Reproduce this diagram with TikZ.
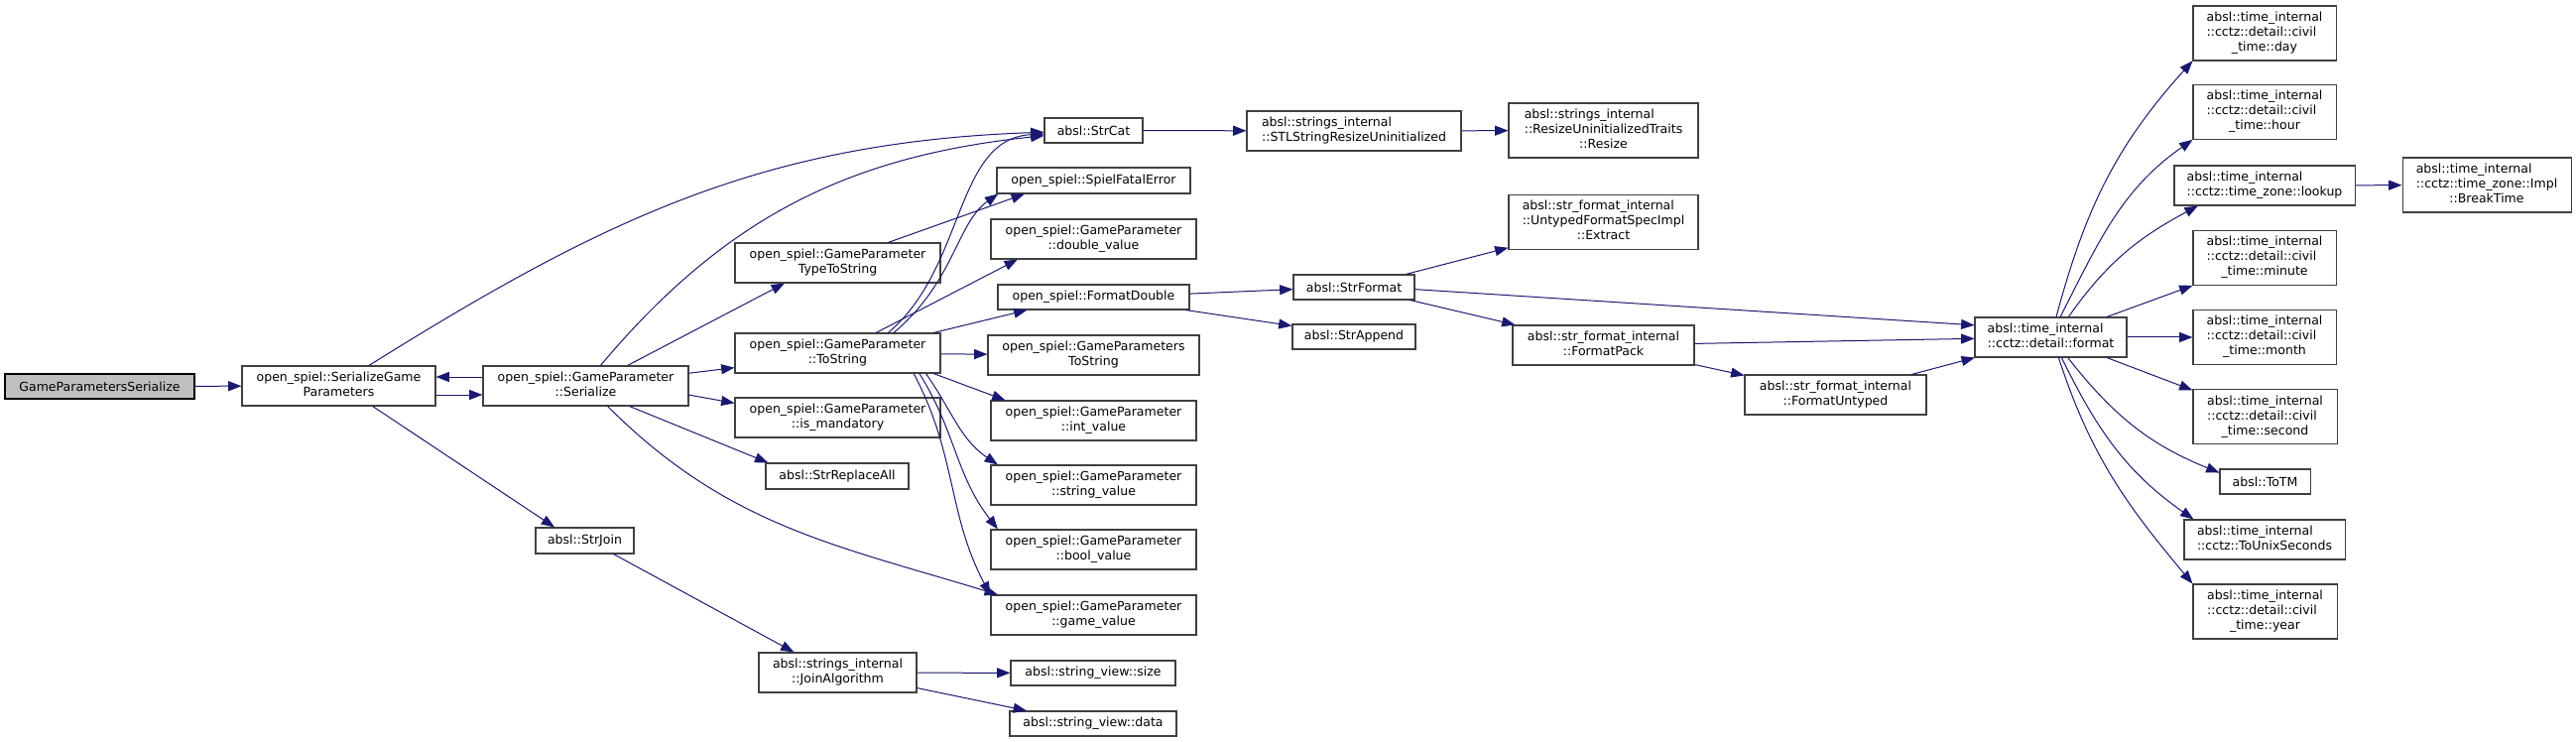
\documentclass[tikz,border=0pt]{standalone}
\usepackage{fontspec}
\setmainfont{DejaVu Sans}
\usetikzlibrary{arrows.meta}
\definecolor{edgeblue}{HTML}{191970}
\definecolor{boxgray}{HTML}{404040}
\definecolor{rootgray}{HTML}{BFBFBF}
\newcommand{\fnl}[2]{\begin{tabular}{@{}l@{}}#1\\\multicolumn{1}{@{}c@{}}{#2}\end{tabular}}

\begin{document}
\begin{tikzpicture}[x=0.75pt, y=-0.75pt,
  fn/.style 2 args={draw=boxgray, fill=white, line width=0.8pt, inner sep=0pt, minimum width=#1*0.75pt, minimum height=#2*0.75pt, font=\fontsize{9.4}{11.25}\selectfont},
  root/.style 2 args={fn={#1}{#2}, draw=black, fill=rootgray},
  call/.style={draw=edgeblue, line width=0.75pt, -{Triangle[length=10pt,width=7.5pt]}}]
\fill[white] (0,0) rectangle (2597,748);
\node[root={191}{25}] (gps) at (100.5,389.5) {GameParametersSerialize};
\node[fn={195}{40}] (sgp) at (341.5,389) {\fnl{open\_spiel::SerializeGame}{Parameters}};
\node[fn={207}{40}] (ser) at (590.5,389) {\fnl{open\_spiel::GameParameter}{::Serialize}};
\node[fn={99}{25}] (strcat) at (1102.5,131.5) {absl::StrCat};
\node[fn={195}{26}] (fatal) at (1102.5,182) {open\_spiel::SpielFatalError};
\node[fn={207}{40}] (dblval) at (1102.5,241) {\fnl{open\_spiel::GameParameter}{::double\_value}};
\node[fn={207}{40}] (typestr) at (844.5,265) {\fnl{open\_spiel::GameParameter}{TypeToString}};
\node[fn={193}{25}] (fmtdbl) at (1102.5,299.5) {open\_spiel::FormatDouble};
\node[fn={207}{40}] (tostr) at (844.5,356) {\fnl{open\_spiel::GameParameter}{::ToString}};
\node[fn={213}{40}] (gpstr) at (1102.5,358) {\fnl{open\_spiel::GameParameters}{ToString}};
\node[fn={207}{40}] (mand) at (844.5,421) {\fnl{open\_spiel::GameParameter}{::is\_mandatory}};
\node[fn={207}{40}] (intval) at (1102.5,424) {\fnl{open\_spiel::GameParameter}{::int\_value}};
\node[fn={144}{26}] (repl) at (844,480) {absl::StrReplaceAll};
\node[fn={207}{40}] (strval) at (1102.5,489) {\fnl{open\_spiel::GameParameter}{::string\_value}};
\node[fn={207}{40}] (boolval) at (1102.5,554) {\fnl{open\_spiel::GameParameter}{::bool\_value}};
\node[fn={207}{40}] (gameval) at (1102.5,620) {\fnl{open\_spiel::GameParameter}{::game\_value}};
\node[fn={99}{26}] (strjoin) at (589.5,545) {absl::StrJoin};
\node[fn={159}{40}] (joinalg) at (844.5,678) {\fnl{absl::strings\_internal}{::JoinAlgorithm}};
\node[fn={166}{25}] (svsize) at (1102,678.5) {absl::string\_view::size};
\node[fn={168}{25}] (svdata) at (1102,729.5) {absl::string\_view::data};
\node[fn={216}{40}] (stlresize) at (1365,132) {\fnl{absl::strings\_internal}{::STLStringResizeUninitialized}};
\node[fn={191}{55}] (resize) at (1616.5,131.5) {\fnl{absl::strings\_internal\\::ResizeUninitializedTraits}{::Resize}};
\node[fn={191}{55}] (extract) at (1616.5,224) {\fnl{absl::str\_format\_internal\\::UntypedFormatSpecImpl}{::Extract}};
\node[fn={122}{25}] (strformat) at (1365,289.5) {absl::StrFormat};
\node[fn={124}{25}] (strappend) at (1365,339.5) {absl::StrAppend};
\node[fn={183}{40}] (fmtpack) at (1616.5,348) {\fnl{absl::str\_format\_internal}{::FormatPack}};
\node[fn={183}{40}] (fmtuntyped) at (1850.5,398) {\fnl{absl::str\_format\_internal}{::FormatUntyped}};
\node[fn={153}{40}] (format) at (2067.5,340) {\fnl{absl::time\_internal}{::cctz::detail::format}};
\node[fn={144}{55}] (day) at (2283,33.5) {\fnl{absl::time\_internal\\::cctz::detail::civil}{\_time::day}};
\node[fn={144}{55}] (hour) at (2283,113) {\fnl{absl::time\_internal\\::cctz::detail::civil}{\_time::hour}};
\node[fn={182}{40}] (lookup) at (2283,187) {\fnl{absl::time\_internal}{::cctz::time\_zone::lookup}};
\node[fn={170}{55}] (breaktime) at (2507,186.5) {\fnl{absl::time\_internal\\::cctz::time\_zone::Impl}{::BreakTime}};
\node[fn={144}{55}] (minute) at (2283,260) {\fnl{absl::time\_internal\\::cctz::detail::civil}{\_time::minute}};
\node[fn={144}{55}] (month) at (2283,340) {\fnl{absl::time\_internal\\::cctz::detail::civil}{\_time::month}};
\node[fn={145}{55}] (second) at (2283.5,420) {\fnl{absl::time\_internal\\::cctz::detail::civil}{\_time::second}};
\node[fn={91}{25}] (totm) at (2283.5,485.5) {absl::ToTM};
\node[fn={162}{40}] (tounix) at (2283,544) {\fnl{absl::time\_internal}{::cctz::ToUnixSeconds}};
\node[fn={145}{55}] (year) at (2283.5,616.5) {\fnl{absl::time\_internal\\::cctz::detail::civil}{\_time::year}};
\path (gps) edge[call] (sgp);
\path ([yshift=-6.75pt]sgp.east) edge[call] ([yshift=-6.75pt]ser.west);
\path ([yshift=6.75pt]ser.west) edge[call] ([yshift=6.75pt]sgp.east);
\path (sgp.34) edge[call, out=32, in=182] (strcat.182);
\path (sgp.-31) edge[call] (strjoin.156);
\path (ser.54) edge[call, out=50, in=186] (strcat.186);
\path (ser.26) edge[call] (typestr.201);
\path (ser.7) edge[call] (tostr.188);
\path (ser.-5) edge[call] (mand.172);
\path (ser.-25) edge[call] (repl.169);
\path (ser.-43) edge[call, out=-45, in=163] (gameval.168);
\path (typestr.22) edge[call] (fatal.191);
\path (tostr.22) edge[call, out=40, in=183, out distance=77pt, in distance=68pt] (strcat.184);
\path (tostr.20) edge[call, out=40, in=215, out distance=60pt, in distance=38pt] (fatal.188);
\path (tostr.28) edge[call] (dblval.195);
\path (tostr.12) edge[call] (fmtdbl.191);
\path (tostr) edge[call] (gpstr);
\path (tostr.-12) edge[call] (intval.167);
\path (tostr.-13) edge[call, out=-55, in=146] (strval.168);
\path (tostr.-14) edge[call, out=-58, in=128] (boolval.168);
\path (tostr.-15) edge[call, out=-62, in=118] (gameval.169);
\path (strcat) edge[call] (stlresize);
\path (stlresize) edge[call] (resize);
\path (fmtdbl.2) edge[call] (strformat.182);
\path (fmtdbl.-8) edge[call] (strappend.170);
\path (strformat.14) edge[call] (extract.195);
\path (strformat.-2) edge[call] (format.171);
\path (strformat.-13) edge[call] (fmtpack.167);
\path (fmtpack.1) edge[call] (format.181);
\path (fmtpack.-12) edge[call] (fmtuntyped.168);
\path (fmtuntyped.15) edge[call] (format.195);
\path (format.75) edge[call, out=75, in=228] (day.201);
\path (format.65) edge[call, out=63, in=215] (hour.201);
\path (format.49) edge[call, out=55, in=208] (lookup.197);
\path (format.20) edge[call] (minute.201);
\path (format) edge[call] (month);
\path (format.-20) edge[call] (second.160);
\path (format.-50) edge[call, out=-52, in=158] (totm.169);
\path (format.-62) edge[call, out=-64, in=145] (tounix.164);
\path (format.-69) edge[call, out=-72, in=130] (year.159);
\path (lookup) edge[call] (breaktime);
\path (strjoin.-25) edge[call] (joinalg.155);
\path (joinalg) edge[call] (svsize);
\path (joinalg.-11) edge[call] (svdata.169);
\end{tikzpicture}
\end{document}
